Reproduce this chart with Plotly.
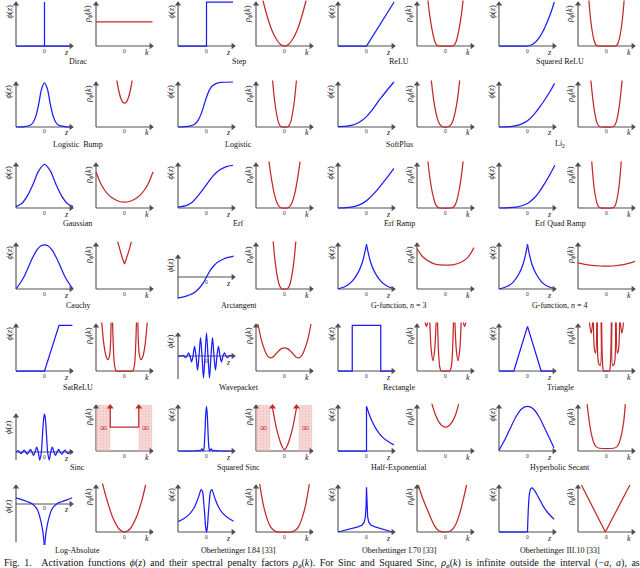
import plotly.graph_objects as go

# ---------------- data (normalised: z,k in [-1,1]; value 1 = top of axis) ----------------
# Row 1
dirac_z = [-1, 0, 0, 0, 0.9]
dirac_phi = [0, 0, 1.0, 0, 0]
dirac_k = [-1, 0.98]
dirac_rho = [0.55, 0.55]
step_z = [-1, 0, 0, 0.93]
step_phi = [0, 0, 1.0, 1.0]
step_k = [-0.76, -0.6, -0.45, -0.3, -0.15, 0, 0.15, 0.3, 0.45, 0.6, 0.76]
step_rho = [1.04, 0.66, 0.37, 0.17, 0.04, 0, 0.04, 0.17, 0.37, 0.66, 1.04]
relu_z = [-1, 0, 0.97]
relu_phi = [0, 0, 1.0]
relu_k = [-0.62, -0.55, -0.48, -0.42, -0.36, -0.3, -0.25, 0, 0.25, 0.3, 0.36, 0.42, 0.48, 0.55, 0.62]
relu_rho = [1.05, 0.68, 0.4, 0.21, 0.08, 0.02, 0, 0, 0, 0.02, 0.08, 0.21, 0.4, 0.68, 1.05]
sqrelu_z = [-1, -0.1, 0, 0.2, 0.4, 0.6, 0.8, 0.94]
sqrelu_phi = [0, 0, 0, 0.045, 0.18, 0.41, 0.72, 1.0]
sqrelu_k = [-0.62, -0.56, -0.5, -0.45, -0.4, -0.35, -0.31, 0, 0.31, 0.35, 0.4, 0.45, 0.5, 0.56, 0.62]
sqrelu_rho = [1.05, 0.62, 0.33, 0.16, 0.06, 0.01, 0, 0, 0, 0.01, 0.06, 0.16, 0.33, 0.62, 1.05]
# Row 2
lbump_z = [-1, -0.7, -0.5, -0.4, -0.3, -0.2, -0.1, 0, 0.1, 0.2, 0.3, 0.4, 0.5, 0.7, 0.9]
lbump_phi = [0, 0.01, 0.04, 0.1, 0.25, 0.52, 0.85, 0.98, 0.85, 0.52, 0.25, 0.1, 0.04, 0.01, 0]
lbump_k = [-0.27, -0.2, -0.13, -0.06, 0, 0.06, 0.13, 0.2, 0.27]
lbump_rho = [1.04, 0.8, 0.64, 0.55, 0.53, 0.55, 0.64, 0.8, 1.04]
logistic_z = [-1, -0.6, -0.45, -0.35, -0.25, -0.15, -0.08, 0, 0.1, 0.2, 0.35, 0.5, 0.93]
logistic_phi = [0, 0.02, 0.05, 0.1, 0.2, 0.36, 0.5, 0.66, 0.82, 0.91, 0.97, 0.99, 1.0]
logistic_k = [-0.42, -0.35, -0.28, -0.22, -0.16, -0.1, 0, 0.1, 0.16, 0.22, 0.28, 0.35, 0.42]
logistic_rho = [1.05, 0.6, 0.3, 0.12, 0.03, 0, 0, 0, 0.03, 0.12, 0.3, 0.6, 1.05]
softplus_z = [-1, -0.7, -0.5, -0.3, -0.15, 0, 0.15, 0.3, 0.5, 0.7, 0.96]
softplus_phi = [0.01, 0.02, 0.04, 0.09, 0.15, 0.23, 0.34, 0.47, 0.64, 0.8, 1.0]
softplus_k = [-0.5, -0.42, -0.34, -0.26, -0.18, -0.1, 0, 0.1, 0.18, 0.26, 0.34, 0.42, 0.5]
softplus_rho = [1.05, 0.62, 0.33, 0.14, 0.04, 0.005, 0, 0.005, 0.04, 0.14, 0.33, 0.62, 1.05]
li2_z = [-1, -0.6, -0.4, -0.2, 0, 0.2, 0.4, 0.6, 0.8, 0.95]
li2_phi = [0, 0.01, 0.03, 0.07, 0.14, 0.26, 0.42, 0.6, 0.8, 0.97]
li2_k = [-0.55, -0.48, -0.42, -0.36, -0.3, -0.22, 0, 0.22, 0.3, 0.36, 0.42, 0.48, 0.55]
li2_rho = [1.05, 0.62, 0.34, 0.15, 0.05, 0.005, 0, 0.005, 0.05, 0.15, 0.34, 0.62, 1.05]
# Row 3
gauss_z = [-1, -0.8, -0.6, -0.4, -0.2, 0, 0.2, 0.4, 0.6, 0.8, 1.0]
gauss_phi = [0.03, 0.1, 0.27, 0.53, 0.83, 0.97, 0.83, 0.53, 0.27, 0.1, 0.03]
gauss_k = [-1, -0.8, -0.6, -0.4, -0.2, 0, 0.2, 0.4, 0.6, 0.8, 1.0]
gauss_rho = [0.8, 0.5, 0.32, 0.21, 0.15, 0.13, 0.15, 0.21, 0.32, 0.5, 0.8]
erf_z = [-1, -0.7, -0.5, -0.3, -0.15, 0, 0.15, 0.3, 0.5, 0.7, 0.93]
erf_phi = [0.02, 0.06, 0.13, 0.27, 0.39, 0.52, 0.65, 0.76, 0.86, 0.92, 0.95]
erf_k = [-0.55, -0.45, -0.36, -0.27, -0.18, -0.1, 0, 0.1, 0.18, 0.27, 0.36, 0.45, 0.55]
erf_rho = [1.05, 0.62, 0.32, 0.13, 0.03, 0, 0, 0, 0.03, 0.13, 0.32, 0.62, 1.05]
erframp_z = [-1, -0.7, -0.45, -0.25, -0.1, 0.05, 0.2, 0.4, 0.6, 0.8, 0.96]
erframp_phi = [0, 0.01, 0.03, 0.07, 0.12, 0.19, 0.28, 0.42, 0.58, 0.74, 0.88]
erframp_k = [-0.62, -0.55, -0.48, -0.41, -0.34, -0.27, -0.2, 0, 0.2, 0.27, 0.34, 0.41, 0.48, 0.55, 0.62]
erframp_rho = [1.05, 0.68, 0.4, 0.2, 0.07, 0.015, 0, 0, 0, 0.015, 0.07, 0.2, 0.4, 0.68, 1.05]
erfqr_z = [-1, -0.6, -0.4, -0.2, 0, 0.2, 0.4, 0.6, 0.8, 0.96]
erfqr_phi = [0, 0.01, 0.02, 0.05, 0.1, 0.2, 0.35, 0.54, 0.76, 0.95]
erfqr_k = [-0.52, -0.46, -0.4, -0.34, -0.28, -0.2, 0, 0.2, 0.28, 0.34, 0.4, 0.46, 0.52]
erfqr_rho = [1.05, 0.6, 0.3, 0.12, 0.03, 0.002, 0, 0.002, 0.03, 0.12, 0.3, 0.6, 1.05]
# Row 4
cauchy_z = [-1, -0.85, -0.7, -0.55, -0.4, -0.25, -0.12, 0, 0.12, 0.25, 0.4, 0.55, 0.7, 0.85, 1.0]
cauchy_phi = [0, 0.13, 0.29, 0.5, 0.7, 0.86, 0.94, 0.96, 0.94, 0.86, 0.7, 0.5, 0.29, 0.13, 0]
cauchy_k = [-0.24, -0.16, -0.08, 0, 0.08, 0.16, 0.24]
cauchy_rho = [1.03, 0.84, 0.68, 0.54, 0.68, 0.84, 1.03]
atan_z = [-1, -0.8, -0.6, -0.4, -0.25, -0.12, 0, 0.12, 0.25, 0.4, 0.6, 0.8, 0.95]
atan_phi = [-0.95, -0.9, -0.82, -0.68, -0.5, -0.28, 0, 0.28, 0.5, 0.68, 0.82, 0.9, 0.95]
atan_k = [-0.4, -0.33, -0.26, -0.2, -0.14, -0.08, 0, 0.08, 0.14, 0.2, 0.26, 0.33, 0.4]
atan_rho = [1.05, 0.6, 0.3, 0.12, 0.03, 0, 0, 0, 0.03, 0.12, 0.3, 0.6, 1.05]
g3_z = [-1, -0.7, -0.5, -0.3, -0.15, -0.05, 0, None, 0, 0.05, 0.15, 0.3, 0.5, 0.7, 1.0]
g3_phi = [0, 0.07, 0.17, 0.35, 0.57, 0.82, 0.97, None, 0.97, 0.82, 0.57, 0.35, 0.17, 0.07, 0]
g3_k = [-1, -0.8, -0.55, -0.3, 0, 0.3, 0.55, 0.8, 1.0]
g3_rho = [0.88, 0.7, 0.59, 0.53, 0.52, 0.53, 0.58, 0.7, 0.9]
g4_z = [-1, -0.7, -0.5, -0.3, -0.15, -0.05, 0, None, 0, 0.05, 0.15, 0.3, 0.5, 0.7, 1.0]
g4_phi = [0, 0.06, 0.15, 0.33, 0.55, 0.8, 0.97, None, 0.97, 0.8, 0.55, 0.33, 0.15, 0.06, 0]
g4_k = [-1, -0.6, -0.2, 0, 0.2, 0.6, 1.0]
g4_rho = [0.57, 0.52, 0.5, 0.5, 0.5, 0.53, 0.6]
# Row 5
satrelu_z = [-1, 0, 0.51, 0.98]
satrelu_phi = [0, 0, 0.97, 0.97]
satrelu_k = [-0.8, -0.72, -0.64, -0.58, -0.52, -0.47, None, -0.42, -0.39, -0.36, -0.32, -0.28, 0,
             0.28, 0.32, 0.36, 0.39, 0.42, None, 0.47, 0.52, 0.58, 0.64, 0.72, 0.8]
satrelu_rho = [1.05, 0.55, 0.3, 0.24, 0.35, 1.05, None, 1.05, 0.5, 0.18, 0.04, 0, 0,
               0, 0.04, 0.18, 0.5, 1.05, None, 1.05, 0.35, 0.24, 0.3, 0.55, 1.05]
wave_z = [-0.9975, -0.945, -0.8925, -0.84, -0.7875, -0.735, -0.6825, -0.63, -0.5775, -0.525,
          -0.4725, -0.42, -0.3675, -0.315, -0.2625, -0.21, -0.1575, -0.105, -0.0525, 0,
          0.0525, 0.105, 0.1575, 0.21, 0.2625, 0.315, 0.3675, 0.42, 0.4725, 0.525,
          0.5775, 0.63, 0.6825, 0.735, 0.7875, 0.84, 0.8925, 0.945, 0.9975]
wave_phi = [0, -0.01, 0, 0.03, 0, -0.07, 0, 0.14, 0, -0.26,
            0, 0.42, 0, -0.61, 0, 0.8, 0, -0.95, 0, 1.0,
            0, -0.95, 0, 0.8, 0, -0.61, 0, 0.42, 0, -0.26,
            0, 0.14, 0, -0.07, 0, 0.03, 0, -0.01, 0]
wave_k = [-0.93, -0.82, -0.7, -0.6, -0.5, -0.4, -0.25, -0.12, 0, 0.12, 0.25, 0.4, 0.5, 0.6, 0.7, 0.82, 0.93]
wave_rho = [1.0, 0.68, 0.45, 0.32, 0.28, 0.3, 0.4, 0.47, 0.49, 0.47, 0.4, 0.3, 0.28, 0.32, 0.45, 0.68, 1.0]
rect_z = [-1, -0.5, -0.5, 0.5, 0.5, 0.97]
rect_phi = [0, 0, 0.97, 0.97, 0, 0]
rect_k = [-0.72, -0.67, -0.62, None, -0.55, -0.5, -0.44, -0.38, -0.33, None, -0.28, -0.24, -0.2, -0.15, 0,
          0.15, 0.2, 0.24, 0.28, None, 0.33, 0.38, 0.44, 0.5, 0.55, None, 0.62, 0.67, 0.72]
rect_rho = [1.05, 0.95, 1.05, None, 1.05, 0.45, 0.22, 0.45, 1.05, None, 1.05, 0.35, 0.08, 0, 0,
            0, 0.08, 0.35, 1.05, None, 1.05, 0.45, 0.22, 0.45, 1.05, None, 1.05, 0.95, 1.05]
tri_z = [-1, -0.48, 0, 0.48, 0.97]
tri_phi = [0, 0, 0.95, 0, 0]
tri_k = [-0.6, -0.54, -0.48, None, -0.46, -0.42, -0.38, -0.34, None, -0.32, -0.27, -0.22, -0.19, None,
         -0.17, -0.14, -0.1, 0, 0.1, 0.14, 0.17, None, 0.19, 0.22, 0.27, 0.32, None, 0.34, 0.38, 0.42, 0.46,
         None, 0.48, 0.54, 0.6]
tri_rho = [1.05, 0.8, 1.05, None, 1.05, 0.45, 0.38, 1.05, None, 1.05, 0.15, 0.12, 1.05, None,
           1.05, 0.2, 0, 0, 0, 0.2, 1.05, None, 1.05, 0.12, 0.15, 1.05, None, 1.05, 0.38, 0.45, 1.05,
           None, 1.05, 0.8, 1.05]
# Row 6
sinc_z = [-0.99, -0.935, -0.88, -0.825, -0.77, -0.715, -0.66, -0.605, -0.55, -0.495, -0.44, -0.385,
          -0.33, -0.275, -0.22, -0.165, -0.11, -0.0825, -0.055, -0.0275, 0, 0.0275, 0.055, 0.0825,
          0.11, 0.165, 0.22, 0.275, 0.33, 0.385, 0.44, 0.495, 0.55, 0.605, 0.66, 0.715, 0.77, 0.825,
          0.88, 0.935, 0.99]
sinc_phi = [0, 0.037, 0, -0.042, 0, 0.049, 0, -0.058, 0, 0.071, 0, -0.091,
            0, 0.127, 0, -0.212, 0, 0.3, 0.637, 0.9, 1.0, 0.9, 0.637, 0.3,
            0, -0.212, 0, 0.127, 0, -0.091, 0, 0.071, 0, -0.058, 0, 0.049, 0, -0.042,
            0, 0.037, 0]
sinc_a = 0.5
sinc_level = 0.52
sinc_k = [-0.5, -0.5, 0.5, 0.5]
sinc_rho = [0.95, 0.52, 0.52, 0.95]
sqsinc_z = [-1, -0.44, -0.385, -0.33, -0.275, -0.22, -0.165, -0.11, -0.0825, -0.055, -0.0275, 0,
            0.0275, 0.055, 0.0825, 0.11, 0.165, 0.22, 0.275, 0.33, 0.385, 0.44, 0.93]
sqsinc_phi = [0, 0, 0.008, 0, 0.016, 0, 0.045, 0, 0.087, 0.39, 0.79, 0.97,
              0.79, 0.39, 0.087, 0, 0.045, 0, 0.016, 0, 0.008, 0, 0]
sqsinc_k = [-0.42, -0.38, -0.32, -0.27, -0.2, -0.1, 0, 0.1, 0.2, 0.27, 0.32, 0.38, 0.42]
sqsinc_rho = [0.93, 0.8, 0.6, 0.46, 0.3, 0.12, 0.03, 0.12, 0.3, 0.46, 0.6, 0.8, 0.93]
halfexp_z1 = [-1, 0, 0]
halfexp_phi1 = [0, 0, 0.97]
halfexp_z2 = [0, 0.1, 0.2, 0.3, 0.45, 0.6, 0.75, 0.96]
halfexp_phi2 = [0.97, 0.79, 0.64, 0.52, 0.38, 0.28, 0.21, 0.13]
halfexp_k = [-0.48, -0.36, -0.24, -0.12, 0, 0.12, 0.24, 0.36, 0.46]
halfexp_rho = [1.03, 0.8, 0.64, 0.55, 0.52, 0.55, 0.64, 0.8, 1.02]
sech_z = [-1, -0.8, -0.6, -0.4, -0.2, 0, 0.2, 0.4, 0.6, 0.8, 0.93]
sech_phi = [0.02, 0.24, 0.5, 0.75, 0.92, 0.97, 0.92, 0.75, 0.5, 0.24, 0.07]
sech_k = [-0.68, -0.6, -0.52, -0.44, -0.36, -0.25, 0, 0.25, 0.36, 0.44, 0.52, 0.6, 0.66]
sech_rho = [1.02, 0.62, 0.34, 0.17, 0.09, 0.06, 0.05, 0.06, 0.09, 0.17, 0.34, 0.62, 1.02]
# Row 7
logabs_z = [-1, -0.8, -0.6, -0.45, -0.35, -0.25, -0.16, -0.08, -0.03, -0.005, None,
            0.005, 0.03, 0.08, 0.16, 0.25, 0.35, 0.45, 0.6, 0.8, 0.97]
logabs_phi = [0.32, 0.23, 0.12, 0.03, -0.1, -0.3, -0.7, -1.25, -1.8, -2.3, None,
              -2.3, -1.8, -1.25, -0.7, -0.3, -0.1, 0.03, 0.12, 0.23, 0.33]
logabs_k = [-0.78, -0.6, -0.4, -0.2, 0, 0.2, 0.4, 0.6, 0.74]
logabs_rho = [1.05, 0.65, 0.29, 0.07, 0, 0.07, 0.29, 0.65, 1.0]
ob84_z = [-1, -0.8, -0.6, -0.45, -0.33, -0.25, -0.19, -0.14, -0.1, -0.06, -0.03, 0,
          0.03, 0.06, 0.1, 0.14, 0.19, 0.25, 0.33, 0.45, 0.6, 0.8, 0.95]
ob84_phi = [0.22, 0.28, 0.38, 0.5, 0.66, 0.8, 0.9, 0.86, 0.65, 0.35, 0.1, 0.0,
            0.1, 0.35, 0.65, 0.86, 0.9, 0.8, 0.66, 0.5, 0.38, 0.28, 0.23]
ob84_k = [-0.87, -0.75, -0.62, -0.5, -0.38, -0.26, 0, 0.26, 0.38, 0.5, 0.62, 0.75, 0.87]
ob84_rho = [1.02, 0.6, 0.3, 0.12, 0.035, 0.005, 0, 0.005, 0.035, 0.12, 0.3, 0.6, 1.02]
ob70_z = [-1, -0.6, -0.3, -0.15, -0.08, -0.04, -0.015, 0, 0.015, 0.04, 0.08, 0.15, 0.3, 0.6, 0.9]
ob70_phi = [0.0, 0.06, 0.11, 0.15, 0.21, 0.32, 0.55, 0.95, 0.55, 0.32, 0.21, 0.15, 0.11, 0.05, 0.0]
ob70_k = [-0.96, -0.8, -0.6, -0.4, -0.25, 0, 0.2, 0.35, 0.5, 0.62, 0.74]
ob70_rho = [1.0, 0.72, 0.42, 0.15, 0.03, 0, 0.03, 0.15, 0.4, 0.68, 1.0]
ob310_z1 = [-1, 0]
ob310_phi1 = [0, 0]
ob310_z2 = [0, 0.03, 0.07, 0.12, 0.16, 0.25, 0.4, 0.55, 0.7, 0.93]
ob310_phi2 = [0, 0.5, 0.82, 0.93, 0.94, 0.88, 0.72, 0.55, 0.42, 0.27]
ob310_k = [-0.88, -0.04, 0.82]
ob310_rho = [1.0, 0, 1.0]

TITLES = ["Dirac", "Step", "ReLU", "Squared ReLU",
          "Logistic  Bump", "Logistic", "SoftPlus", "Li<sub>2</sub>",
          "Gaussian", "Erf", "Erf Ramp", "Erf Quad Ramp",
          "Cauchy", "Arctangent", "G-function, <i>n</i> = 3", "G-function, <i>n</i> = 4",
          "SatReLU", "Wavepacket", "Rectangle", "Triangle",
          "Sinc", "Squared Sinc", "Half-Exponential", "Hyperbolic Secant",
          "Log-Absolute", "Oberhettinger I.84 [33]", "Oberhettinger I.70 [33]", "Oberhettinger III.10 [33]"]

# ---------------- layout constants ----------------
W, H = 640, 568
BLUE = "rgb(28,28,250)"
RED = "rgb(196,40,40)"
AXC = "#505050"
FONT = "Liberation Serif"
COL_X0 = [16, 96, 178, 256, 338, 417, 499, 578]
AX_W = 57
ROW_BOX = [(2, 46), (82, 127), (163, 208), (243, 289), (324, 371), (405, 451), (485, 532)]
TITLE_Y = [62, 144, 224, 305, 387, 467, 550]
S, L = "spline", "linear"

PAIRS = [
    dict(phi=[(dirac_z, dirac_phi, L)], rho=[(dirac_k, dirac_rho, L)]),
    dict(phi=[(step_z, step_phi, L)], rho=[(step_k, step_rho, S)]),
    dict(phi=[(relu_z, relu_phi, L)], rho=[(relu_k, relu_rho, S)]),
    dict(phi=[(sqrelu_z, sqrelu_phi, S)], rho=[(sqrelu_k, sqrelu_rho, S)]),
    dict(phi=[(lbump_z, lbump_phi, S)], rho=[(lbump_k, lbump_rho, S)]),
    dict(phi=[(logistic_z, logistic_phi, S)], rho=[(logistic_k, logistic_rho, S)]),
    dict(phi=[(softplus_z, softplus_phi, S)], rho=[(softplus_k, softplus_rho, S)]),
    dict(phi=[(li2_z, li2_phi, S)], rho=[(li2_k, li2_rho, S)]),
    dict(phi=[(gauss_z, gauss_phi, S)], rho=[(gauss_k, gauss_rho, S)]),
    dict(phi=[(erf_z, erf_phi, S)], rho=[(erf_k, erf_rho, S)]),
    dict(phi=[(erframp_z, erframp_phi, S)], rho=[(erframp_k, erframp_rho, S)]),
    dict(phi=[(erfqr_z, erfqr_phi, S)], rho=[(erfqr_k, erfqr_rho, S)]),
    dict(phi=[(cauchy_z, cauchy_phi, S)], rho=[(cauchy_k, cauchy_rho, L)]),
    dict(phi=[(atan_z, atan_phi, S)], rho=[(atan_k, atan_rho, S)],
         phi_box=(255, 299, -1.0, 1.0), phi_lab=265),
    dict(phi=[(g3_z, g3_phi, S)], rho=[(g3_k, g3_rho, S)]),
    dict(phi=[(g4_z, g4_phi, S)], rho=[(g4_k, g4_rho, S)]),
    dict(phi=[(satrelu_z, satrelu_phi, L)], rho=[(satrelu_k, satrelu_rho, S)]),
    dict(phi=[(wave_z, wave_phi, S)], rho=[(wave_k, wave_rho, S)],
         phi_box=(333, 379, -1.0, 1.0), phi_lab=341),
    dict(phi=[(rect_z, rect_phi, L)], rho=[(rect_k, rect_rho, S)]),
    dict(phi=[(tri_z, tri_phi, L)], rho=[(tri_k, tri_rho, S)]),
    dict(phi=[(sinc_z, sinc_phi, S)], rho=[(sinc_k, sinc_rho, L)],
         phi_box=(414, 460, -0.21, 1.0), phi_lab=427, inf=True,
         rho_arrows=[sinc_k[0], sinc_k[-1]]),
    dict(phi=[(sqsinc_z, sqsinc_phi, S)], rho=[(sqsinc_k, sqsinc_rho, S)], inf=True,
         rho_arrows=[sqsinc_k[0], sqsinc_k[-1]]),
    dict(phi=[(halfexp_z1, halfexp_phi1, L), (halfexp_z2, halfexp_phi2, S)], rho=[(halfexp_k, halfexp_rho, S)]),
    dict(phi=[(sech_z, sech_phi, S)], rho=[(sech_k, sech_rho, S)]),
    dict(phi=[(logabs_z, logabs_phi, S)], rho=[(logabs_k, logabs_rho, S)],
         phi_box=(485, 542, -2.0, 1.0), phi_lab=506),
    dict(phi=[(ob84_z, ob84_phi, S)], rho=[(ob84_k, ob84_rho, S)]),
    dict(phi=[(ob70_z, ob70_phi, L)], rho=[(ob70_k, ob70_rho, S)]),
    dict(phi=[(ob310_z1, ob310_phi1, L), (ob310_z2, ob310_phi2, S)], rho=[(ob310_k, ob310_rho, L)]),
]

fig = go.Figure()
annotations = []
shapes = []
axes = {}
n = 0
PAD = 3.0
for p_i, pair in enumerate(PAIRS):
    r, c = divmod(p_i, 4)
    for side in ("phi", "rho"):
        n += 1
        col = 2 * c + (0 if side == "phi" else 1)
        x0 = COL_X0[col]
        x1 = x0 + AX_W
        top, bot = ROW_BOX[r]
        ylo, yhi = 0.0, 1.0
        lab_y = top + (9.5 if side == "phi" else 12)
        if side == "phi" and "phi_box" in pair:
            top, bot, ylo, yhi = pair["phi_box"]
            lab_y = pair["phi_lab"]
        xr = "x" if n == 1 else f"x{n}"
        yr = "y" if n == 1 else f"y{n}"
        pxx = AX_W / 2.0
        pxy = (bot - top) / (yhi - ylo)
        ptop = min(1.5, top)
        axes["xaxis" if n == 1 else f"xaxis{n}"] = dict(
            domain=[(x0 - PAD) / W, (x1 + PAD) / W], range=[-1 - PAD / pxx, 1 + PAD / pxx],
            visible=False, anchor=yr)
        axes["yaxis" if n == 1 else f"yaxis{n}"] = dict(
            domain=[1 - (bot + PAD) / H, 1 - (top - ptop) / H], range=[ylo - PAD / pxy, yhi + ptop / pxy],
            visible=False, anchor=xr)
        # shaded infinite region (Sinc / Squared Sinc)
        if side == "rho" and pair.get("inf"):
            for (a0, a1) in [(-1.0, -sinc_a), (sinc_a, 0.97)]:
                fig.add_trace(go.Scatter(
                    x=[a0, a1, a1, a0, a0], y=[0, 0, 1, 1, 0], xaxis=xr, yaxis=yr, mode="lines",
                    fill="toself", fillcolor="rgba(236,170,170,0.55)", line=dict(width=0),
                    fillpattern=dict(shape=".", fgcolor="rgba(205,110,110,0.6)",
                                     bgcolor="rgba(240,185,185,0.55)", size=3, solidity=0.25),
                    hoverinfo="skip", showlegend=False))
                annotations.append(dict(x=(a0 + a1) / 2, y=sinc_level, xref=xr, yref=yr, text="∞",
                                        showarrow=False, font=dict(family=FONT, size=10, color=RED)))
        # axis lines
        shapes.append(dict(type="line", xref=xr, yref=yr, x0=-1, x1=1, y0=0, y1=0,
                           line=dict(color=AXC, width=1.1), layer="below"))
        shapes.append(dict(type="line", xref=xr, yref=yr, x0=-1, x1=-1, y0=ylo, y1=yhi,
                           line=dict(color=AXC, width=1.1), layer="below"))
        # curves
        color = BLUE if side == "phi" else RED
        for xs, ys, shp in pair[side]:
            fig.add_trace(go.Scatter(x=xs, y=ys, xaxis=xr, yaxis=yr, mode="lines",
                                     line=dict(color=color, width=1.25, shape=shp, smoothing=0.9),
                                     hoverinfo="skip", showlegend=False, connectgaps=False))
        # arrow heads of the axes
        dx = 2.0 / pxx
        dy = 2.0 / pxy
        fig.add_trace(go.Scatter(x=[1 - dx, -1], y=[0, yhi - dy], xaxis=xr, yaxis=yr, mode="markers",
                                 marker=dict(symbol=["triangle-right", "triangle-up"], size=5.5,
                                             color=AXC, line=dict(width=0)),
                                 cliponaxis=False, hoverinfo="skip", showlegend=False))
        if side == "rho" and "rho_arrows" in pair:
            fig.add_trace(go.Scatter(x=pair["rho_arrows"], y=[1 - dy] * len(pair["rho_arrows"]),
                                     xaxis=xr, yaxis=yr, mode="markers",
                                     marker=dict(symbol="triangle-up", size=6, color=RED, line=dict(width=0)),
                                     cliponaxis=False, hoverinfo="skip", showlegend=False))
        # tick labels
        annotations.append(dict(x=0, y=0, xref=xr, yref=yr, text="0", showarrow=False, yshift=-4.5,
                                font=dict(family=FONT, size=5.5, color="#333")))
        annotations.append(dict(x=0.78, y=0, xref=xr, yref=yr, showarrow=False, yshift=-6,
                                text="<i>z</i>" if side == "phi" else "<i>k</i>",
                                font=dict(family=FONT, size=8, color="#222")))
        # y label
        ylab = "<i>ϕ</i>(<i>z</i>)" if side == "phi" else "<i>ρ</i><sub><i>ϕ</i></sub>(<i>k</i>)"
        annotations.append(dict(x=(x0 - 8) / W, y=1 - lab_y / H, xref="paper", yref="paper",
                                text=ylab, textangle=-90, showarrow=False, xanchor="center",
                                yanchor="middle", font=dict(family=FONT, size=8.5, color="#222")))
    # title of the pair
    cx = (COL_X0[2 * c] + COL_X0[2 * c + 1] + AX_W) / 2 - 7
    annotations.append(dict(x=cx / W, y=1 - TITLE_Y[r] / H, xref="paper", yref="paper",
                            text=TITLES[p_i], showarrow=False, xanchor="center", yanchor="middle",
                            font=dict(family=FONT, size=8, color="#111")))

caption = ("Fig. 1.\u00a0\u00a0 Activation functions <i>ϕ</i>(<i>z</i>) and their spectral penalty factors "
           "<i>ρ</i><sub><i>ϕ</i></sub>(<i>k</i>). For Sinc and Squared Sinc, "
           "<i>ρ</i><sub><i>ϕ</i></sub>(<i>k</i>) is infinite outside the interval (−<i>a</i>, <i>a</i>), as")
caption = caption.replace(" ", " \u2009")  # justified line: slightly wider word gaps
annotations.append(dict(x=2 / W, y=1 - 563 / H, xref="paper", yref="paper", text=caption,
                        showarrow=False, xanchor="left", yanchor="middle",
                        font=dict(family=FONT, size=10, color="#111")))

fig.update_layout(width=W, height=H, margin=dict(l=0, r=0, t=0, b=0),
                  paper_bgcolor="white", plot_bgcolor="rgba(0,0,0,0)",
                  annotations=annotations, shapes=shapes, **axes)
fig.write_html("out.html", config={"displayModeBar": False, "staticPlot": True},
               post_script="document.body.style.margin='0px';document.body.style.overflow='hidden';")
